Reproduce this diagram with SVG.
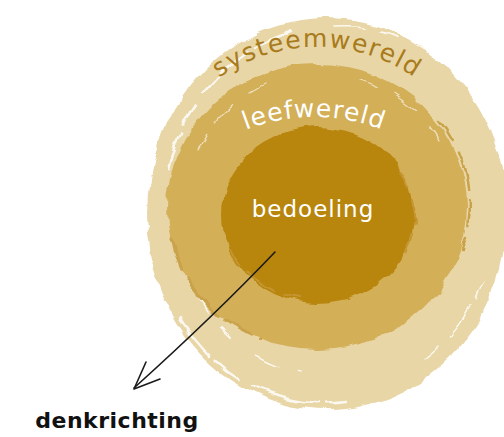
<svg xmlns="http://www.w3.org/2000/svg" width="504" height="437" viewBox="0 0 504 437">
  <style>
    .hand { font-family: "DejaVu Sans", "Liberation Sans", sans-serif; }
    .streak { fill: none; stroke: #ffffff; stroke-linecap: round; }
    .dstreak { fill: none; stroke-linecap: round; }
    .conn { fill: none; stroke: #1a1a1a; stroke-width: 1.6; stroke-linecap: round; stroke-linejoin: round; }
  </style>
  <defs>
    <filter id="rough" x="-10%" y="-10%" width="120%" height="120%">
      <feTurbulence type="fractalNoise" baseFrequency="0.035 0.06" numOctaves="2" seed="4" result="n"/>
      <feDisplacementMap in="SourceGraphic" in2="n" scale="9" xChannelSelector="R" yChannelSelector="G"/>
    </filter>
    <path id="arcSys" d="M 145,219 A 172,172 0 0 1 489,219"/>
    <path id="arcLeef" d="M 126,305 A 188,188 0 0 1 502,305"/>
  </defs>
  <rect width="504" height="437" fill="#ffffff"/>

  <g id="systeemwereld">
    <ellipse cx="327" cy="214" rx="180" ry="196" fill="#e8d6a6" filter="url(#rough)"/>
    <g filter="url(#rough)" opacity="0.85">
      <path class="streak" stroke-width="2.5" stroke-dasharray="40 8 25 12 60 10" d="M 168,170 A 172,188 0 0 1 290,32"/>
      <path class="streak" stroke-width="1.6" stroke-dasharray="30 14 20 20" d="M 335,28 A 172,188 0 0 1 440,60"/>
      <path class="streak" stroke-width="2.4" stroke-dasharray="50 6 30 14 70 8" d="M 180,318 A 172,188 0 0 0 345,402"/>
      <path class="streak" stroke-width="1.4" stroke-dasharray="20 15 35 10" d="M 425,360 A 172,188 0 0 0 488,270"/>
      <path class="streak" stroke-width="1.4" stroke-dasharray="25 20 15 30" d="M 195,290 A 150,160 0 0 0 300,372"/>
    </g>
    <text class="hand" font-size="25" fill="#a87b1c" letter-spacing="1.5"><textPath href="#arcSys" startOffset="50%" text-anchor="middle">systeemwereld</textPath></text>
  </g>

  <g id="leefwereld">
    <ellipse cx="317" cy="207" rx="150" ry="143" fill="#d3af59" filter="url(#rough)"/>
    <g filter="url(#rough)">
      <path class="dstreak" stroke="#c9a24a" stroke-width="3" stroke-dasharray="30 10 50 8" d="M 172,240 A 147,140 0 0 0 260,340"/>
      <path class="dstreak" stroke="#c9a24a" stroke-width="2.5" stroke-dasharray="25 12 40 10" d="M 440,120 A 147,140 0 0 1 462,250"/>
      <path class="streak" stroke-width="1.3" stroke-dasharray="18 14 26 20" opacity="0.6" d="M 198,150 A 140,135 0 0 1 265,85"/>
      <path class="streak" stroke-width="1.3" stroke-dasharray="20 16 30 20" opacity="0.6" d="M 360,80 A 140,135 0 0 1 440,140"/>
    </g>
    <text class="hand" font-size="25" fill="#ffffff" letter-spacing="1"><textPath href="#arcLeef" startOffset="50%" text-anchor="middle">leefwereld</textPath></text>
  </g>

  <g id="bedoeling">
    <ellipse cx="318" cy="215" rx="96" ry="88" fill="#b8860f" filter="url(#rough)"/>
    <g filter="url(#rough)">
      <path class="dstreak" stroke="#c49532" stroke-width="2" stroke-dasharray="18 10 30 12" d="M 232,250 A 92,85 0 0 0 300,298"/>
      <path class="dstreak" stroke="#c49532" stroke-width="2" stroke-dasharray="20 12 25 10" d="M 400,170 A 92,85 0 0 1 405,255"/>
    </g>
    <text class="hand" x="313" y="217" font-size="23" fill="#ffffff" text-anchor="middle" letter-spacing="1">bedoeling</text>
  </g>

  <g id="connectors">
    <path class="conn" d="M 275,252 Q 215,315 134,388"/>
    <path class="conn" d="M 146,362 L 134,389 L 160,379"/>
  </g>

  <g id="denkrichting">
    <text class="hand" x="117" y="428" font-size="22" font-weight="bold" fill="#111111" text-anchor="middle" letter-spacing="0.5">denkrichting</text>
  </g>
</svg>
